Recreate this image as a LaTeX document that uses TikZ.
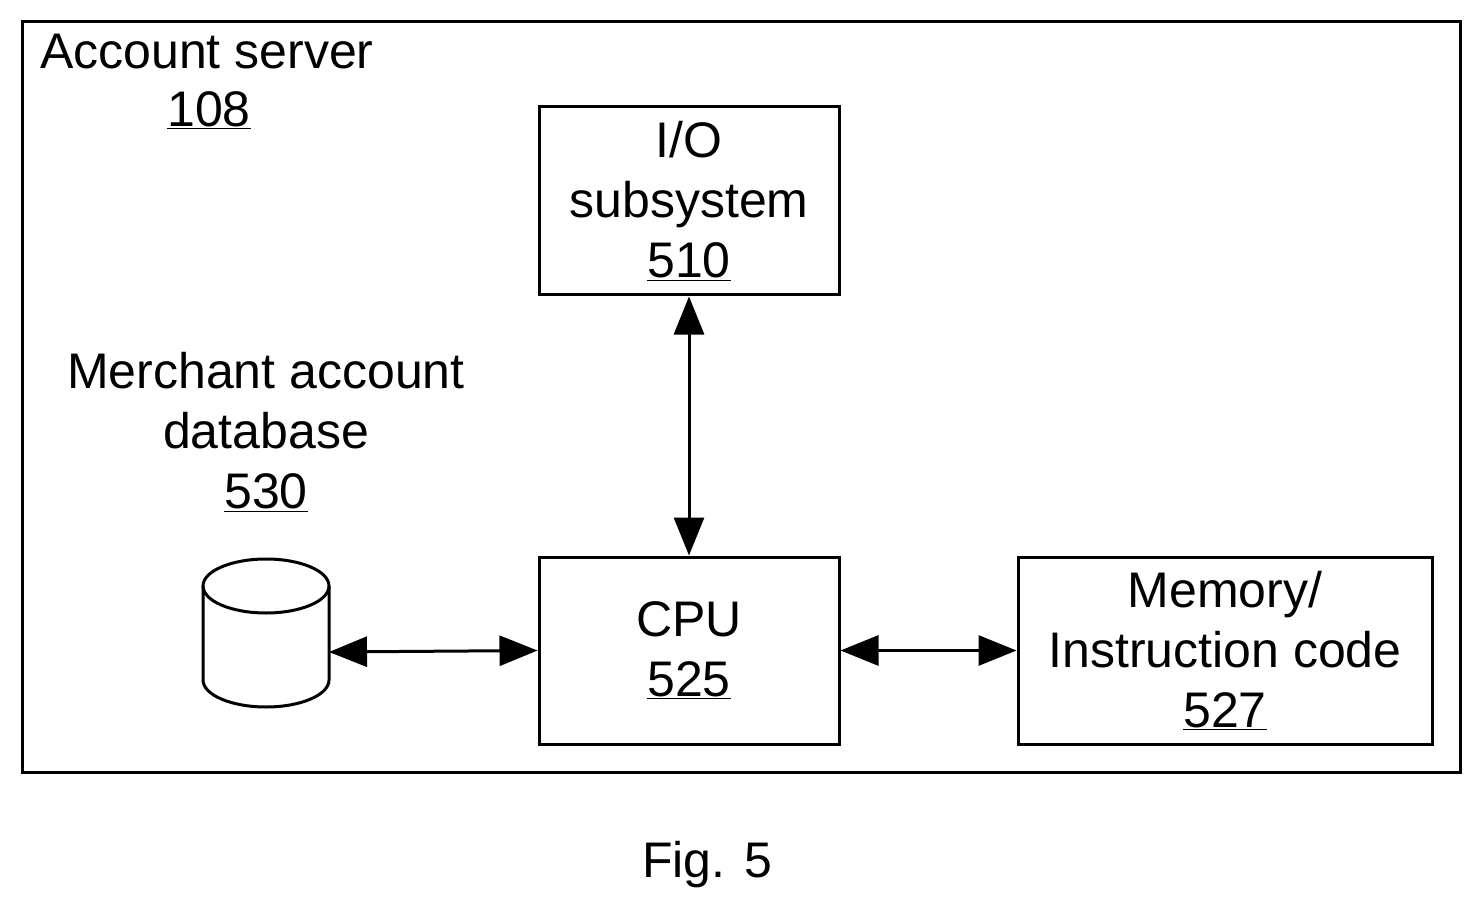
\documentclass[tikz,border=0pt]{standalone}
\usepackage{fontspec}
\setmainfont{Liberation Sans}
\usetikzlibrary{arrows.meta}
\begin{document}
\begin{tikzpicture}[x=1pt,y=-1pt,
  box/.style={draw,line width=3pt},
  txt/.style={font=\fontsize{50}{60}\selectfont,align=center,inner sep=0},
  arr/.style={line width=3pt,{Triangle[length=38pt,width=30pt]}-{Triangle[length=38pt,width=30pt]}}]
\useasboundingbox (0,0) rectangle (1483,917);
\draw[line width=3pt] (22,22) rectangle (1460,772);
\node[txt,anchor=west] (acc) at (40,52) {Account server};
\node[txt] (n108) at (209,110) {\underline{108}};
\node[box,minimum width=300pt,minimum height=188pt] (io) at (689,201) {};
\node[txt] at (io) {I/O\\subsystem\\\underline{510}};
\node[box,minimum width=300pt,minimum height=187pt] (cpu) at (689,650.5) {};
\node[txt] at (cpu) {CPU\\\underline{525}};
\node[box,minimum width=414pt,minimum height=187pt] (mem) at (1225,650.5) {};
\node[txt] at (mem) {Memory/\\Instruction code\\\underline{527}};
\node[txt] (dbl) at (266,432) {Merchant account\\database\\\underline{530}};
% cylinder
\draw[line width=3pt,fill=white] (203,586) -- (203,680) arc[start angle=180,end angle=0,x radius=63,y radius=27] -- (329,586);
\draw[line width=3pt] (266,586) ellipse[x radius=63,y radius=27];
\coordinate (db) at (329,652);
\draw[arr] (io.south) -- (cpu.north);
\draw[arr] (db) -- (cpu.west);
\draw[arr] (cpu.east) -- (mem.west);
\node[txt] (fig) at (707,865) {Fig. 5};
\end{tikzpicture}
\end{document}
